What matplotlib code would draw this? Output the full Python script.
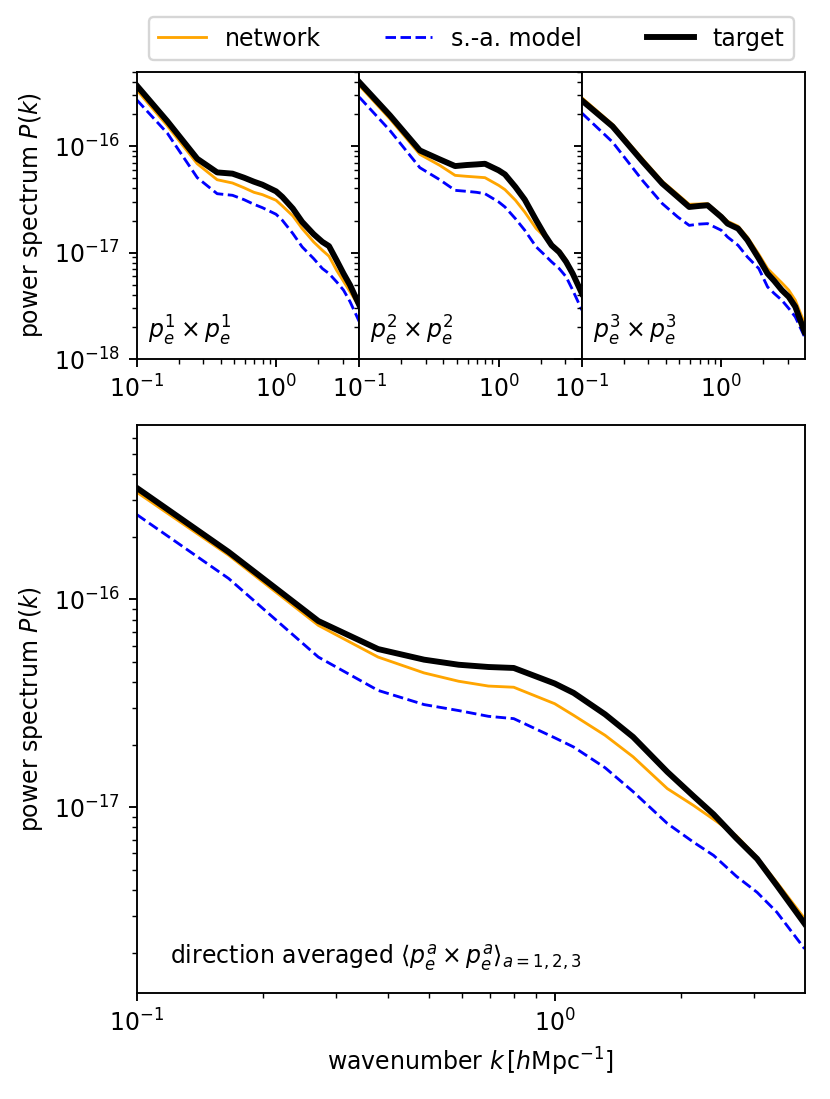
import numpy as np
import matplotlib
matplotlib.use("Agg")
import matplotlib.pyplot as plt

# bin centres of the wavenumber [h/Mpc]
k = np.array([0.1, 0.166, 0.272, 0.378, 0.487, 0.589, 0.694, 0.798, 1.0, 1.11,
              1.32, 1.54, 1.86, 2.15, 2.40, 2.72, 3.05, 3.4, 3.96])

# power spectra, in units of 1e-17
net_1 = [33.7, 15.5, 6.82, 4.83, 4.50, 4.06, 3.68, 3.50, 3.10, 2.74,
         2.21, 1.68, 1.26, 1.05, 0.925, 0.682, 0.538, 0.428, 0.310]
sa_1 = [27.2, 13.2, 5.05, 3.57, 3.45, 3.14, 2.84, 2.64, 2.29, 2.01,
        1.51, 1.13, 0.879, 0.708, 0.635, 0.531, 0.444, 0.345, 0.224]
target_1 = [37.1, 17.1, 7.60, 5.66, 5.51, 5.05, 4.63, 4.34, 3.76, 3.33,
            2.59, 1.94, 1.49, 1.26, 1.15, 0.847, 0.635, 0.494, 0.321]

net_2 = [37.1, 18.0, 8.36, 6.59, 5.31, 5.20, 5.12, 5.05, 4.28, 3.90,
         3.10, 2.40, 1.68, 1.40, 1.21, 1.05, 0.859, 0.635, 0.398]
sa_2 = [28.8, 14.0, 6.27, 4.83, 3.84, 3.76, 3.68, 3.57, 2.99, 2.68,
        2.08, 1.62, 1.13, 0.944, 0.818, 0.708, 0.592, 0.444, 0.288]
target_2 = [39.8, 19.4, 9.10, 7.50, 6.49, 6.64, 6.73, 6.82, 5.92, 5.42,
            4.13, 3.14, 2.01, 1.45, 1.17, 1.01, 0.818, 0.635, 0.413]

net_3 = [28.4, 16.0, 7.60, 4.67, 3.52, 2.84, 2.86, 2.88, 2.24, 1.97,
         1.77, 1.40, 0.964, 0.708, 0.612, 0.520, 0.444, 0.357, 0.216]
sa_3 = [20.4, 10.9, 4.76, 2.88, 2.16, 1.80, 1.85, 1.87, 1.62, 1.40,
        1.17, 0.910, 0.708, 0.476, 0.413, 0.357, 0.299, 0.249, 0.162]
target_3 = [26.8, 15.3, 7.18, 4.44, 3.33, 2.68, 2.74, 2.78, 2.16, 1.87,
            1.68, 1.31, 0.879, 0.635, 0.542, 0.444, 0.384, 0.310, 0.180]

net_avg = [32.8, 16.3, 7.50, 5.28, 4.43, 4.04, 3.83, 3.78, 3.15, 2.77,
           2.22, 1.75, 1.23, 1.02, 0.875, 0.730, 0.575, 0.436, 0.292]
sa_avg = [25.6, 12.6, 5.28, 3.65, 3.12, 2.92, 2.74, 2.67, 2.16, 1.95,
          1.55, 1.19, 0.836, 0.679, 0.587, 0.466, 0.390, 0.313, 0.209]
target_avg = [34.4, 16.9, 7.87, 5.77, 5.13, 4.85, 4.73, 4.68, 3.94, 3.55,
              2.80, 2.18, 1.48, 1.13, 0.925, 0.710, 0.565, 0.421, 0.276]

panel_labels = [r"$p_e^1 \times p_e^1$", r"$p_e^2 \times p_e^2$", r"$p_e^3 \times p_e^3$"]
avg_label = r"direction averaged $\langle p_e^a \times p_e^a\rangle_{a=1,2,3}$"
UNIT = 1e-17


def draw(ax, net, sa, target):
    ax.loglog(k, np.array(net) * UNIT, color="orange", lw=1.2, label="network")
    ax.loglog(k, np.array(sa) * UNIT, color="blue", ls="--", lw=1.2, label="s.-a. model")
    ax.loglog(k, np.array(target) * UNIT, color="black", lw=2.5, label="target")
    ax.set_xlim(0.1, 3.96)


fig = plt.figure(figsize=(830 / 170, 1099 / 170), dpi=170)

left, right = 0.1647, 0.9693
w = (right - left) / 3
top_axes = []
for i, (net, sa, target) in enumerate([(net_1, sa_1, target_1),
                                       (net_2, sa_2, target_2),
                                       (net_3, sa_3, target_3)]):
    ax = fig.add_axes([left + i * w, 0.6733, w, 0.2615])
    draw(ax, net, sa, target)
    ax.set_ylim(1e-18, 5e-16)
    ax.text(0.05, 0.04, panel_labels[i], transform=ax.transAxes, va="bottom")
    if i == 0:
        ax.set_ylabel(r"power spectrum $P(k)$")
    else:
        ax.tick_params(axis="y", which="both", labelleft=False)
    top_axes.append(ax)

ax = fig.add_axes([left, 0.0965, right - left, 0.5168])
draw(ax, net_avg, sa_avg, target_avg)
ax.set_ylim(1.28e-18, 6.9e-16)
ax.text(0.05, 0.035, avg_label, transform=ax.transAxes, va="bottom")
ax.set_ylabel(r"power spectrum $P(k)$")
ax.set_xlabel(r"wavenumber $k\,[h\mathrm{Mpc}^{-1}]$")

handles, labels = top_axes[0].get_legend_handles_labels()
fig.legend(handles, labels, loc="lower left", ncol=3, mode="expand",
           bbox_to_anchor=(149 / 830, 1 - 60 / 1099, 645 / 830, 0),
           borderaxespad=0)

fig.savefig("out.png", dpi=170)
